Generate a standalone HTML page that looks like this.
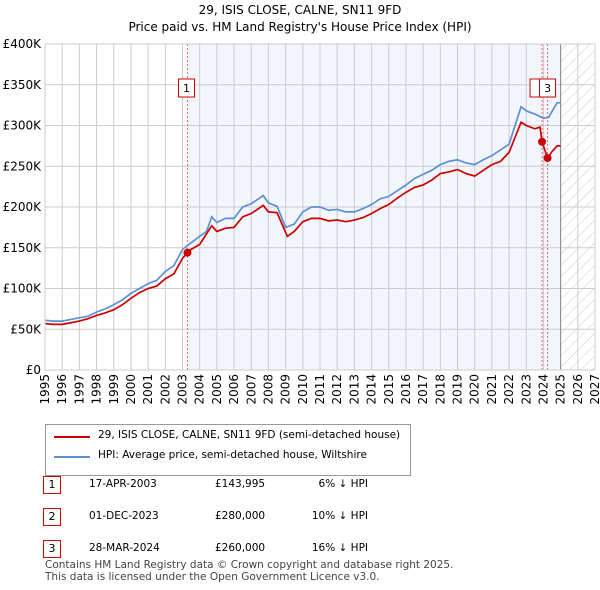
<!DOCTYPE html>
<html><head><meta charset="utf-8"><style>
body{margin:0;background:#fff;font-family:"DejaVu Sans","Liberation Sans",sans-serif;}
#wrap{position:relative;width:600px;height:590px;overflow:hidden}
.t{position:absolute;font-size:12px;color:#000;white-space:nowrap}
.box{position:absolute;border:1px solid #c00;width:16px;height:16px;font-size:11px;text-align:center;line-height:16px;background:#fff}
svg text{font-family:"DejaVu Sans","Liberation Sans",sans-serif}
</style></head><body><div id="wrap">
<div class="t" style="left:0;width:600px;text-align:center;top:3px;font-size:12px">29, ISIS CLOSE, CALNE, SN11 9FD</div>
<div class="t" style="left:0;width:600px;text-align:center;top:20px;font-size:12px">Price paid vs. HM Land Registry's House Price Index (HPI)</div>
<svg id="svg" width="600" height="420" style="position:absolute;left:0;top:0">
<defs><pattern id="hatch" width="8" height="8" patternUnits="userSpaceOnUse" patternTransform="rotate(45)"><line x1="0" y1="0" x2="0" y2="8" stroke="#ccc" stroke-width="1"/></pattern></defs>
</svg>
<div style="position:absolute;left:45px;top:424px;width:364px;height:50px;border:1px solid #999;background:#fff">
<div style="position:absolute;left:8px;top:11px;width:36px;height:2px;background:#c00"></div>
<div class="t" style="left:52px;top:4px;font-size:10.5px">29, ISIS CLOSE, CALNE, SN11 9FD (semi-detached house)</div>
<div style="position:absolute;left:8px;top:31px;width:36px;height:2px;background:#5b8fd6"></div>
<div class="t" style="left:52px;top:24px;font-size:10.5px">HPI: Average price, semi-detached house, Wiltshire</div>
</div>
<div id="table"></div>
<div class="t" style="left:45px;top:559px;font-size:10.5px;color:#444;line-height:12px">Contains HM Land Registry data © Crown copyright and database right 2025.<br>This data is licensed under the Open Government Licence v3.0.</div>
</div>
<script>
const hpiYears=[1995,1995.5,1996,1996.5,1997,1997.5,1998,1998.5,1999,1999.5,2000,2000.5,2001,2001.5,2002,2002.5,2003,2003.5,2004,2004.4,2004.7,2005,2005.5,2006,2006.5,2007,2007.7,2008,2008.5,2009,2009.5,2010,2010.5,2011,2011.5,2012,2012.5,2013,2013.5,2014,2014.5,2015,2015.5,2016,2016.5,2017,2017.5,2018,2018.5,2019,2019.5,2020,2020.5,2021,2021.5,2022,2022.7,2023,2023.5,2024,2024.3,2024.8,2025];
const hpiVals=[61,60,60,62,64,66,71,75,80,86,94,100,106,110,121,128,148,156,164,170,188,181,186,186,200,204,214,205,201,175,179,194,200,200,196,197,194,194,198,203,210,213,220,227,235,240,245,252,256,258,254,252,258,263,270,277,323,318,314,309,310,328,328];
const ppYears=[1995,1995.5,1996,1996.5,1997,1997.5,1998,1998.5,1999,1999.5,2000,2000.5,2001,2001.5,2002,2002.5,2003,2003.29,2003.5,2004,2004.7,2005,2005.5,2006,2006.5,2007,2007.7,2008,2008.5,2009.1,2009.5,2010,2010.5,2011,2011.5,2012,2012.5,2013,2013.5,2014,2014.5,2015,2015.5,2016,2016.5,2017,2017.5,2018,2018.5,2019,2019.5,2020,2020.5,2021,2021.5,2022,2022.7,2023,2023.5,2023.8,2023.92,2024.24,2024.5,2024.8,2025];
const ppVals=[57,56,56,58,60,63,67,70,74,80,88,95,100,103,112,118,137,144,148,154,177,170,174,175,188,192,202,194,193,164,170,182,186,186,183,184,182,184,187,192,198,203,211,218,224,227,233,241,243,246,241,238,245,252,256,267,304,300,296,298,280,260,268,275,275];
const saleYears=[2003.29,2023.92,2024.24];
const saleVals=[143.995,280,260];
const saleLabels=["1","2","3"];
const saleDates=["17-APR-2003","01-DEC-2023","28-MAR-2024"];
const salePrices=["£143,995","£280,000","£260,000"];
const saleDiffs=["6% ↓ HPI","10% ↓ HPI","16% ↓ HPI"];
const yTicks=[0,50,100,150,200,250,300,350,400];
const yTickLabels=["£0","£50K","£100K","£150K","£200K","£250K","£300K","£350K","£400K"];
const xTicks=[1995,1996,1997,1998,1999,2000,2001,2002,2003,2004,2005,2006,2007,2008,2009,2010,2011,2012,2013,2014,2015,2016,2017,2018,2019,2020,2021,2022,2023,2024,2025,2026,2027];

const X0=45,X1=595,Y0=370,Y1=44;
const xs=y=>X0+(y-1995)/(2027-1995)*(X1-X0);
const ys=v=>Y0-v/400*(Y0-Y1);
const svg=document.getElementById('svg');const NS='http://www.w3.org/2000/svg';
function mk(tag,attrs,name){const e=document.createElementNS(NS,tag);for(const k in attrs)e.setAttribute(k,attrs[k]);


svg.appendChild(e);return e;}
mk('rect',{x:xs(saleYears[0]),y:Y1,width:xs(2025)-xs(saleYears[0]),height:Y0-Y1,fill:'#f3f6fd'},'ownership-shading');
mk('rect',{x:xs(2025),y:Y1,width:X1-xs(2025),height:Y0-Y1,fill:'url(#hatch)'},'forecast-hatch');
yTicks.forEach((v,i)=>{mk('line',{x1:X0,x2:X1,y1:ys(v),y2:ys(v),stroke:'#ccc'},'y-gridline');
const t=mk('text',{x:X0-4,y:ys(v)+4,'text-anchor':'end','font-size':12,fill:'#000'},'y-tick-label');t.textContent=yTickLabels[i];});
xTicks.forEach(y=>{mk('line',{x1:xs(y),x2:xs(y),y1:Y1,y2:Y0,stroke:'#ccc'},'x-gridline');
const t=mk('text',{x:0,y:0,transform:`translate(${xs(y)+4},${Y0+4}) rotate(-90)`,'text-anchor':'end','font-size':12,fill:'#000'},'x-tick-label');t.textContent=y;});
mk('line',{x1:xs(2025),x2:xs(2025),y1:Y1,y2:Y0,stroke:'#888'},'forecast-boundary');
saleYears.forEach(y=>mk('line',{x1:xs(y),x2:xs(y),y1:Y1,y2:Y0,stroke:'#e66','stroke-dasharray':'2,2'},'sale-marker-line'));
mk('polyline',{points:hpiYears.map((y,i)=>xs(y)+','+ys(hpiVals[i])).join(' '),fill:'none',stroke:'#5b8fd6','stroke-width':1.7},'hpi-line');
mk('polyline',{points:ppYears.map((y,i)=>xs(y)+','+ys(ppVals[i])).join(' '),fill:'none',stroke:'#c00','stroke-width':1.7},'price-paid-line');
saleYears.forEach((y,i)=>mk('circle',{cx:xs(y),cy:ys(saleVals[i]),r:4,fill:'#c00'},'sale-point'));
const bx=[xs(saleYears[0])-9,xs(saleYears[1])-12,xs(saleYears[2])-8];
[0,1,2].forEach(i=>{mk('rect',{x:bx[i],y:79,width:16,height:18,fill:'#fff',stroke:'#c00'},'sale-label-box');
const t=mk('text',{x:bx[i]+8,y:92,'text-anchor':'middle','font-size':11},'sale-label');t.textContent=i==1?'':saleLabels[i];});
mk('rect',{x:X0,y:Y1,width:X1-X0,height:Y0-Y1,fill:'none',stroke:'#ccc'},'plot-border');
const tb=document.getElementById('table');
saleLabels.forEach((l,i)=>{const top=476+i*32;
tb.insertAdjacentHTML('beforeend',`<div class="box" style="left:43px;top:${top}px">${l}</div>
<div class="t" style="left:89px;top:${top+2}px;font-size:10.5px">${saleDates[i]}</div>
<div class="t" style="left:215px;top:${top+2}px;font-size:10.5px">${salePrices[i]}</div>
<div class="t" style="left:298px;top:${top+2}px;font-size:10.5px;width:70px;text-align:right">${saleDiffs[i]}</div>`);});
</script></body></html>
